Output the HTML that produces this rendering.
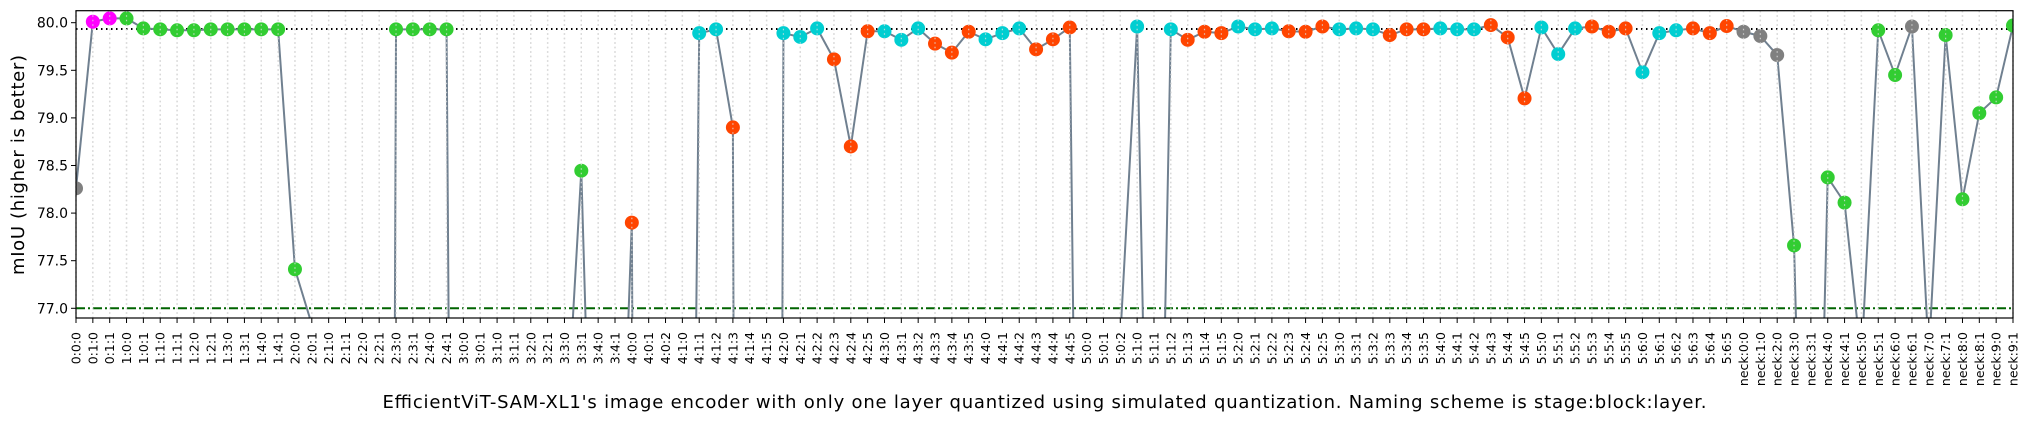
<!DOCTYPE html>
<html><head><meta charset="utf-8"><style>
html,body{margin:0;padding:0;background:#fff;width:2029px;height:422px;overflow:hidden;}
svg{display:block;font-family:"DejaVu Sans","Liberation Sans",sans-serif;}
</style></head><body>
<svg id="chart" width="2029" height="422" viewBox="0 0 2029 422" xmlns="http://www.w3.org/2000/svg">
<defs><clipPath id="plotclip"><rect x="76" y="10.7" width="1937" height="307.3"/></clipPath></defs>
<rect x="0" y="0" width="2029" height="422" fill="#fff"/>
<g id="grid"></g>
<g id="refs" clip-path="url(#plotclip)"></g>
<g id="series" clip-path="url(#plotclip)"></g>
<g id="gridtop" clip-path="url(#plotclip)"></g>
<g id="axes"></g>
<text transform="translate(24,165) rotate(-90)" text-anchor="middle" font-size="18" textLength="220" fill="#000">mIoU (higher is better)</text>
<text x="1044.5" y="408" text-anchor="middle" font-size="18" textLength="1324" fill="#000">EfficientViT-SAM-XL1's image encoder with only one layer quantized using simulated quantization. Naming scheme is stage:block:layer.</text>
</svg>
<script>
const categories = ["0:0:0","0:1:0","0:1:1","1:0:0","1:0:1","1:1:0","1:1:1","1:2:0","1:2:1","1:3:0","1:3:1","1:4:0","1:4:1","2:0:0","2:0:1","2:1:0","2:1:1","2:2:0","2:2:1","2:3:0","2:3:1","2:4:0","2:4:1","3:0:0","3:0:1","3:1:0","3:1:1","3:2:0","3:2:1","3:3:0","3:3:1","3:4:0","3:4:1","4:0:0","4:0:1","4:0:2","4:1:0","4:1:1","4:1:2","4:1:3","4:1:4","4:1:5","4:2:0","4:2:1","4:2:2","4:2:3","4:2:4","4:2:5","4:3:0","4:3:1","4:3:2","4:3:3","4:3:4","4:3:5","4:4:0","4:4:1","4:4:2","4:4:3","4:4:4","4:4:5","5:0:0","5:0:1","5:0:2","5:1:0","5:1:1","5:1:2","5:1:3","5:1:4","5:1:5","5:2:0","5:2:1","5:2:2","5:2:3","5:2:4","5:2:5","5:3:0","5:3:1","5:3:2","5:3:3","5:3:4","5:3:5","5:4:0","5:4:1","5:4:2","5:4:3","5:4:4","5:4:5","5:5:0","5:5:1","5:5:2","5:5:3","5:5:4","5:5:5","5:6:0","5:6:1","5:6:2","5:6:3","5:6:4","5:6:5","neck:0:0","neck:1:0","neck:2:0","neck:3:0","neck:3:1","neck:4:0","neck:4:1","neck:5:0","neck:5:1","neck:6:0","neck:6:1","neck:7:0","neck:7:1","neck:8:0","neck:8:1","neck:9:0","neck:9:1"];
const miou = [78.26,80.01,80.045,80.045,79.94,79.93,79.92,79.92,79.93,79.93,79.93,79.93,79.93,77.41,76.83,35,35,35,35,79.93,79.93,79.93,79.93,55,55,55,55,55,55,75.35,78.445,72.3,73,77.90,40,40,63,79.89,79.93,78.90,20,30,79.89,79.85,79.94,79.615,78.70,79.91,79.91,79.82,79.94,79.78,79.685,79.905,79.825,79.89,79.94,79.72,79.825,79.95,65,30,76.69,79.96,71,79.93,79.82,79.905,79.89,79.96,79.93,79.94,79.91,79.905,79.96,79.93,79.94,79.93,79.87,79.93,79.93,79.94,79.93,79.93,79.975,79.845,79.205,79.95,79.67,79.94,79.96,79.905,79.94,79.48,79.89,79.92,79.94,79.89,79.965,79.905,79.86,79.66,77.66,71,78.375,78.11,76.45,79.92,79.45,79.96,76.5,79.87,78.145,79.05,79.215,79.97];
const kinds = "gmmllllllllllllllllllllllllllllllooocccooocccooocccooocccoooccccccooocccooocccooocccooocccooocccoooggglllllllgllllll";
const yTicks = [77.0,77.5,78.0,78.5,79.0,79.5,80.0];
const baselineValue = 79.934;
const thresholdValue = 77.0;

const palette = {g:"#808080",m:"#ff00ff",l:"#32cd32",c:"#00ced1",o:"#ff4500"};
const X0=76, X1=2013, YT=10.7, YB=318, YMIN=76.898, YMAX=80.126;
const NS="http://www.w3.org/2000/svg";
function xs(i){return X0+(X1-X0)*i/(categories.length-1);}
function ys(v){return YB-(v-YMIN)/(YMAX-YMIN)*(YB-YT);}
function mk(tag,attrs,parent){const e=document.createElementNS(NS,tag);for(const k in attrs)e.setAttribute(k,attrs[k]);parent.appendChild(e);return e;}

const grid=document.getElementById('grid'), gridtop=document.getElementById('gridtop');
categories.forEach((c,i)=>{
  const l=mk('line',{x1:xs(i),x2:xs(i),y1:YT,y2:YB,stroke:'#c8c8c8','stroke-width':1.4,'stroke-dasharray':'1.5,3'},grid);
  
  
});
const refs=document.getElementById('refs');
const bl=mk('line',{x1:X0,x2:X1,y1:ys(baselineValue),y2:ys(baselineValue),stroke:'#000','stroke-width':2,'stroke-dasharray':'1.5,3.5'},refs);


const th=mk('line',{x1:X0,x2:X1,y1:ys(thresholdValue),y2:ys(thresholdValue),stroke:'#006400','stroke-width':2,'stroke-dasharray':'9,3,2,3'},refs);



// line: clip each segment to the plot's vertical range so nothing extends off-page
const series=document.getElementById('series');
const LB=YB+2, LT=YT-2;
let d='';
for(let i=0;i<miou.length-1;i++){
  let xa=xs(i), ya=ys(miou[i]), xb=xs(i+1), yb=ys(miou[i+1]);
  if((ya>LB&&yb>LB)||(ya<LT&&yb<LT)) continue;
  const clipY=(x1,y1,x2,y2,yl)=>x1+(x2-x1)*(yl-y1)/(y2-y1);
  if(ya>LB){xa=clipY(xa,ya,xb,yb,LB);ya=LB;}
  if(yb>LB){xb=clipY(xa,ya,xb,yb,LB);yb=LB;}
  if(ya<LT){xa=clipY(xa,ya,xb,yb,LT);ya=LT;}
  if(yb<LT){xb=clipY(xa,ya,xb,yb,LT);yb=LT;}
  d+='M'+xa.toFixed(2)+','+ya.toFixed(2)+'L'+xb.toFixed(2)+','+yb.toFixed(2);
}
const pl=mk('path',{d:d,fill:'none',stroke:'#708090','stroke-width':2,'stroke-linejoin':'round'},series);


miou.forEach((v,i)=>{
  const cy=ys(v);
  if(cy-7>YB||cy+7<YT) return;
  const c=mk('circle',{cx:xs(i),cy:cy,r:7,fill:palette[kinds[i]]},series);
  
  
});
categories.forEach((c,i)=>{
  const l=mk('line',{x1:xs(i),x2:xs(i),y1:YT,y2:YB,stroke:'#dddddd','stroke-width':1.2,'stroke-dasharray':'1.5,3','stroke-opacity':0.8},gridtop);
  
  
});

const axes=document.getElementById('axes');
const frame=mk('rect',{x:X0,y:YT,width:X1-X0,height:YB-YT,fill:'none',stroke:'#000','stroke-width':1.2},axes);


yTicks.forEach(t=>{
  const tk=mk('line',{x1:X0-5,x2:X0,y1:ys(t),y2:ys(t),stroke:'#000','stroke-width':1},axes);
  
  
  const tx=mk('text',{x:X0-8,y:ys(t)+5,'text-anchor':'end','font-size':14,fill:'#000'},axes);
  tx.textContent=t.toFixed(1);
  
  
});
categories.forEach((c,i)=>{
  const tk=mk('line',{x1:xs(i),x2:xs(i),y1:YB,y2:YB+5,stroke:'#000','stroke-width':1},axes);
  
  
  const tx=mk('text',{transform:'translate('+(xs(i)+4.5).toFixed(2)+','+(YB+14)+') rotate(-90)','text-anchor':'end','font-size':12.5,fill:'#000'},axes);
  tx.textContent=c;
  
  
});
</script>
</body></html>
